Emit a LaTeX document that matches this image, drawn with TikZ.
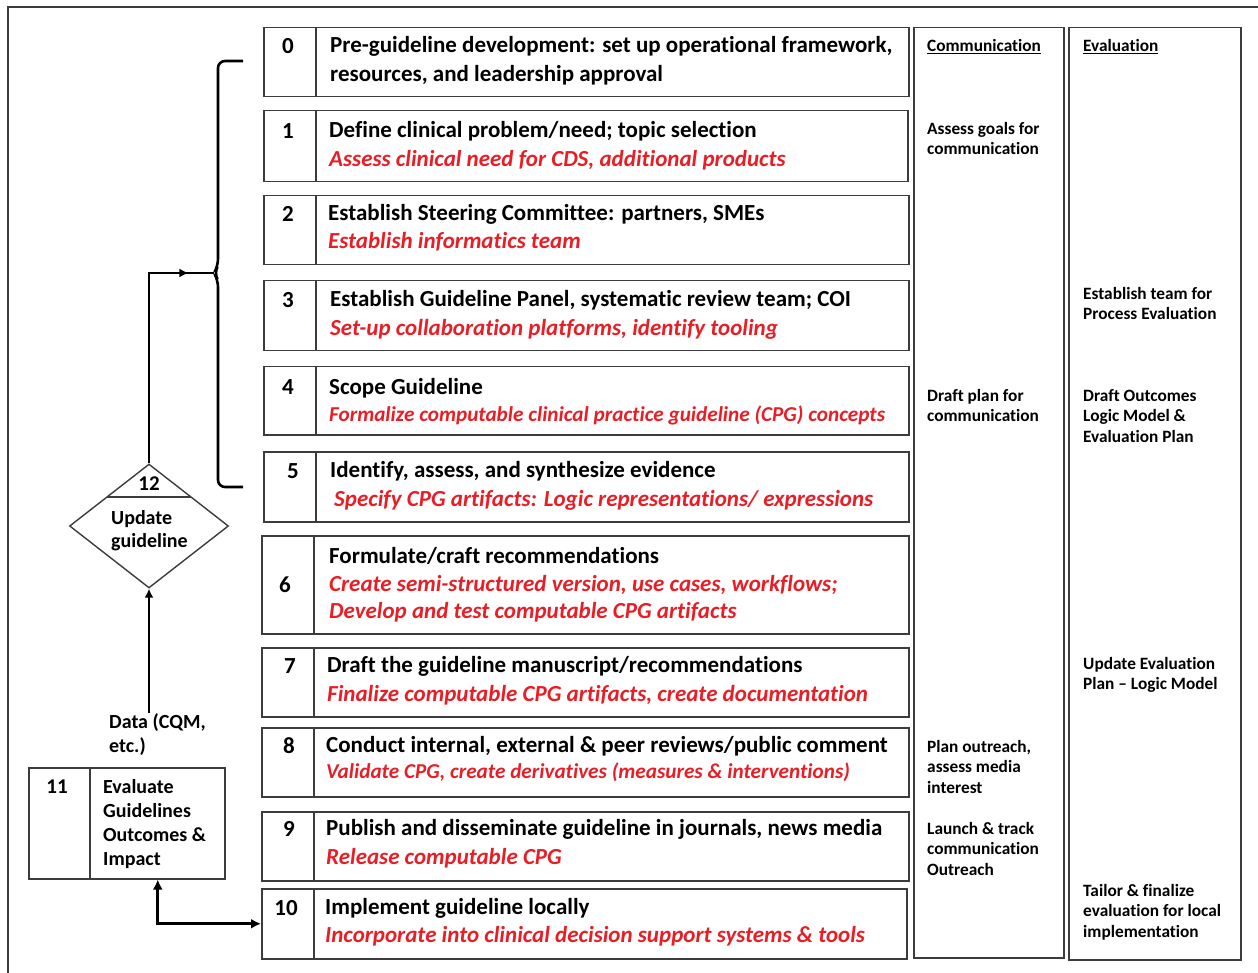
\documentclass[tikz,border=0pt]{standalone}
\usepackage{fontspec}
\setmainfont{Carlito}[Ligatures=NoCommon]
\usetikzlibrary{arrows.meta,shapes.geometric,decorations.markings}
\definecolor{cdsred}{RGB}{232,30,38}
\definecolor{frame}{RGB}{60,60,60}

\begin{document}
\begin{tikzpicture}[x=1pt,y=-1pt,
	box/.style={draw=frame,line width=1.5pt,rectangle,inner sep=0pt,anchor=north west},
	steptxt/.style={anchor=west,inner sep=0pt,font=\fontsize{23}{27}\selectfont\bfseries},
	redtxt/.style={steptxt,text=cdsred,font=\fontsize{23}{27}\selectfont\bfseries\itshape},
	smallred/.style={redtxt,font=\fontsize{21.2}{25}\selectfont\bfseries\itshape},
	numtxt/.style={inner sep=0pt,font=\fontsize{23}{27}\selectfont\bfseries},
	sidetxt/.style={anchor=north west,align=left,inner sep=0pt,font=\fontsize{17.3}{20.5}\selectfont\bfseries},
	looptxt/.style={sidetxt,font=\fontsize{20}{24}\selectfont\bfseries},
	flow/.style={line width=2.6pt,-{Latex[length=9pt,width=9pt]}}]
\useasboundingbox (0,0) rectangle (1258,973);
\draw[line width=1.3pt,frame] (8,973) -- (8,7) -- (1258,7);
% steps 0 to 10
\node[box,minimum width=645,minimum height=69] (s0) at (263,27) {};
\node[box,minimum width=644,minimum height=71] (s1) at (263,110) {};
\node[box,minimum width=645,minimum height=69] (s2) at (263,195) {};
\node[box,minimum width=645,minimum height=70] (s3) at (263,280) {};
\node[box,minimum width=645,minimum height=68] (s4) at (263,366) {};
\node[box,minimum width=645,minimum height=70] (s5) at (263,451) {};
\node[box,minimum width=647,minimum height=98] (s6) at (261,535) {};
\node[box,minimum width=647,minimum height=69] (s7) at (261,647) {};
\node[box,minimum width=647,minimum height=69] (s8) at (261,727) {};
\node[box,minimum width=647,minimum height=69] (s9) at (261,811) {};
\node[box,minimum width=645,minimum height=70] (s10) at (261,888) {};
\foreach \s in {s0,s1,s2,s3,s4,s5,s6,s7,s8,s9,s10}
	\draw[draw=frame,line width=1.5pt] ([xshift=53pt]\s.north west) -- ([xshift=53pt]\s.south west);

\node[numtxt] (n0) at (288,46) {0};
\node[steptxt] (t0) at (330,46) {Pre-guideline development: set up operational framework,};
\node[steptxt] (t0b) at (330,75) {resources, and leadership approval};
\node[numtxt] (n1) at (288,131) {1};
\node[steptxt] (t1) at (329,131) {Define clinical problem/need; topic selection};
\node[redtxt] (r1) at (329,160) {Assess clinical need for CDS, additional products};
\node[numtxt] (n2) at (288,214) {2};
\node[steptxt] (t2) at (328,214) {Establish Steering Committee: partners, SMEs};
\node[redtxt] (r2) at (328,242) {Establish informatics team};
\node[numtxt] (n3) at (288,300) {3};
\node[steptxt] (t3) at (330,300) {Establish Guideline Panel, systematic review team; COI};
\node[redtxt] (r3) at (330,329) {Set-up collaboration platforms, identify tooling};
\node[numtxt] (n4) at (288,387) {4};
\node[steptxt] (t4) at (329,388) {Scope Guideline};
\node[smallred] (r4) at (329,415) {Formalize computable clinical practice guideline (CPG) concepts};
\node[numtxt] (n5) at (293,471) {5};
\node[steptxt] (t5) at (330,471) {Identify, assess, and synthesize evidence};
\node[redtxt] (r5) at (334,500) {Specify CPG artifacts: Logic representations/ expressions};
\node[numtxt] (n6) at (285,585) {6};
\node[steptxt] (t6) at (329,556) {Formulate/craft recommendations};
\node[redtxt] (r6) at (329,585) {Create semi-structured version, use cases, workflows;};
\node[redtxt] (r6b) at (329,612) {Develop and test computable CPG artifacts};
\node[numtxt] (n7) at (290,666) {7};
\node[steptxt] (t7) at (327,666) {Draft the guideline manuscript/recommendations};
\node[redtxt] (r7) at (327,695) {Finalize computable CPG artifacts, create documentation};
\node[numtxt] (n8) at (289,746) {8};
\node[steptxt] (t8) at (326,746) {Conduct internal, external \& peer reviews/public comment};
\node[smallred] (r8) at (326,772) {Validate CPG, create derivatives (measures \& interventions)};
\node[numtxt] (n9) at (289,829) {9};
\node[steptxt] (t9) at (326,829) {Publish and disseminate guideline in journals, news media};
\node[redtxt] (r9) at (326,858) {Release computable CPG};
\node[numtxt] (n10) at (286,908) {10};
\node[steptxt] (t10) at (325,908) {Implement guideline locally};
\node[redtxt] (r10) at (325,936) {Incorporate into clinical decision support systems \& tools};

% communication and evaluation columns
\node[box,minimum width=150,minimum height=930] (comm) at (913,27) {};
\node[box,minimum width=172,minimum height=932] (eval) at (1068,27) {};
\node[sidetxt] (c0) at (927,39) {\underline{Communication}};
\node[sidetxt] (c1) at (927,122) {Assess goals for\\communication};
\node[sidetxt] (c4) at (927,389) {Draft plan for\\communication};
\node[sidetxt] (c8) at (927,740) {Plan outreach,\\assess media\\interest};
\node[sidetxt] (c9) at (927,822) {Launch \& track\\communication\\Outreach};
\node[sidetxt] (e0) at (1083,39) {\underline{Evaluation}};
\node[sidetxt] (e3) at (1083,287) {Establish team for\\Process Evaluation};
\node[sidetxt] (e4) at (1083,389) {Draft Outcomes\\Logic Model \&\\Evaluation Plan};
\node[sidetxt] (e7) at (1083,657) {Update Evaluation\\Plan -- Logic Model};
\node[sidetxt] (e10) at (1083,884) {Tailor \& finalize\\evaluation for local\\implementation};

% update loop
\node[box,minimum width=196,minimum height=111] (s11) at (28,767) {};
\draw[draw=frame,line width=1.5pt] ([xshift=62pt]s11.north west) -- ([xshift=62pt]s11.south west);
\node[numtxt,font=\fontsize{21}{25}\selectfont\bfseries] (n11) at (57,787) {11};
\node[looptxt] (t11) at (103,779) {Evaluate\\Guidelines\\Outcomes \&\\Impact};
\node[draw=frame,line width=1.4pt,diamond,minimum width=159pt,minimum height=124pt,inner sep=0pt] (upd) at (149,526) {};
\draw[draw=frame,line width=1.4pt] (107,497) -- (191,497);
\node[numtxt,font=\fontsize{21}{25}\selectfont\bfseries] (n12) at (149,484) {12};
\node[looptxt,font=\fontsize{20}{23}\selectfont\bfseries] (t12) at (111,510) {Update\\guideline};
\node[looptxt] (dat) at (109,713) {Data (CQM,\\etc.)};
\coordinate (brc) at (214,273);
\draw[line width=2.6pt,rounded corners=7pt] (243,61) -- (218,61) -- (218,266) -- (brc) -- (218,280) -- (218,487) -- (243,487);
\draw[flow] (dat.north -| upd.south) -- (upd.south);
\draw[line width=2.6pt,decoration={markings,mark=at position 0.9 with {\arrow{Latex[length=9pt,width=9pt]}}},postaction={decorate}] (upd.north) |- (brc);
\draw[line width=3.2pt,{Latex[length=10pt,width=10pt]}-{Latex[length=10pt,width=10pt]}] ([xshift=31pt]s11.south) |- (s10.west);
\end{tikzpicture}
\end{document}
